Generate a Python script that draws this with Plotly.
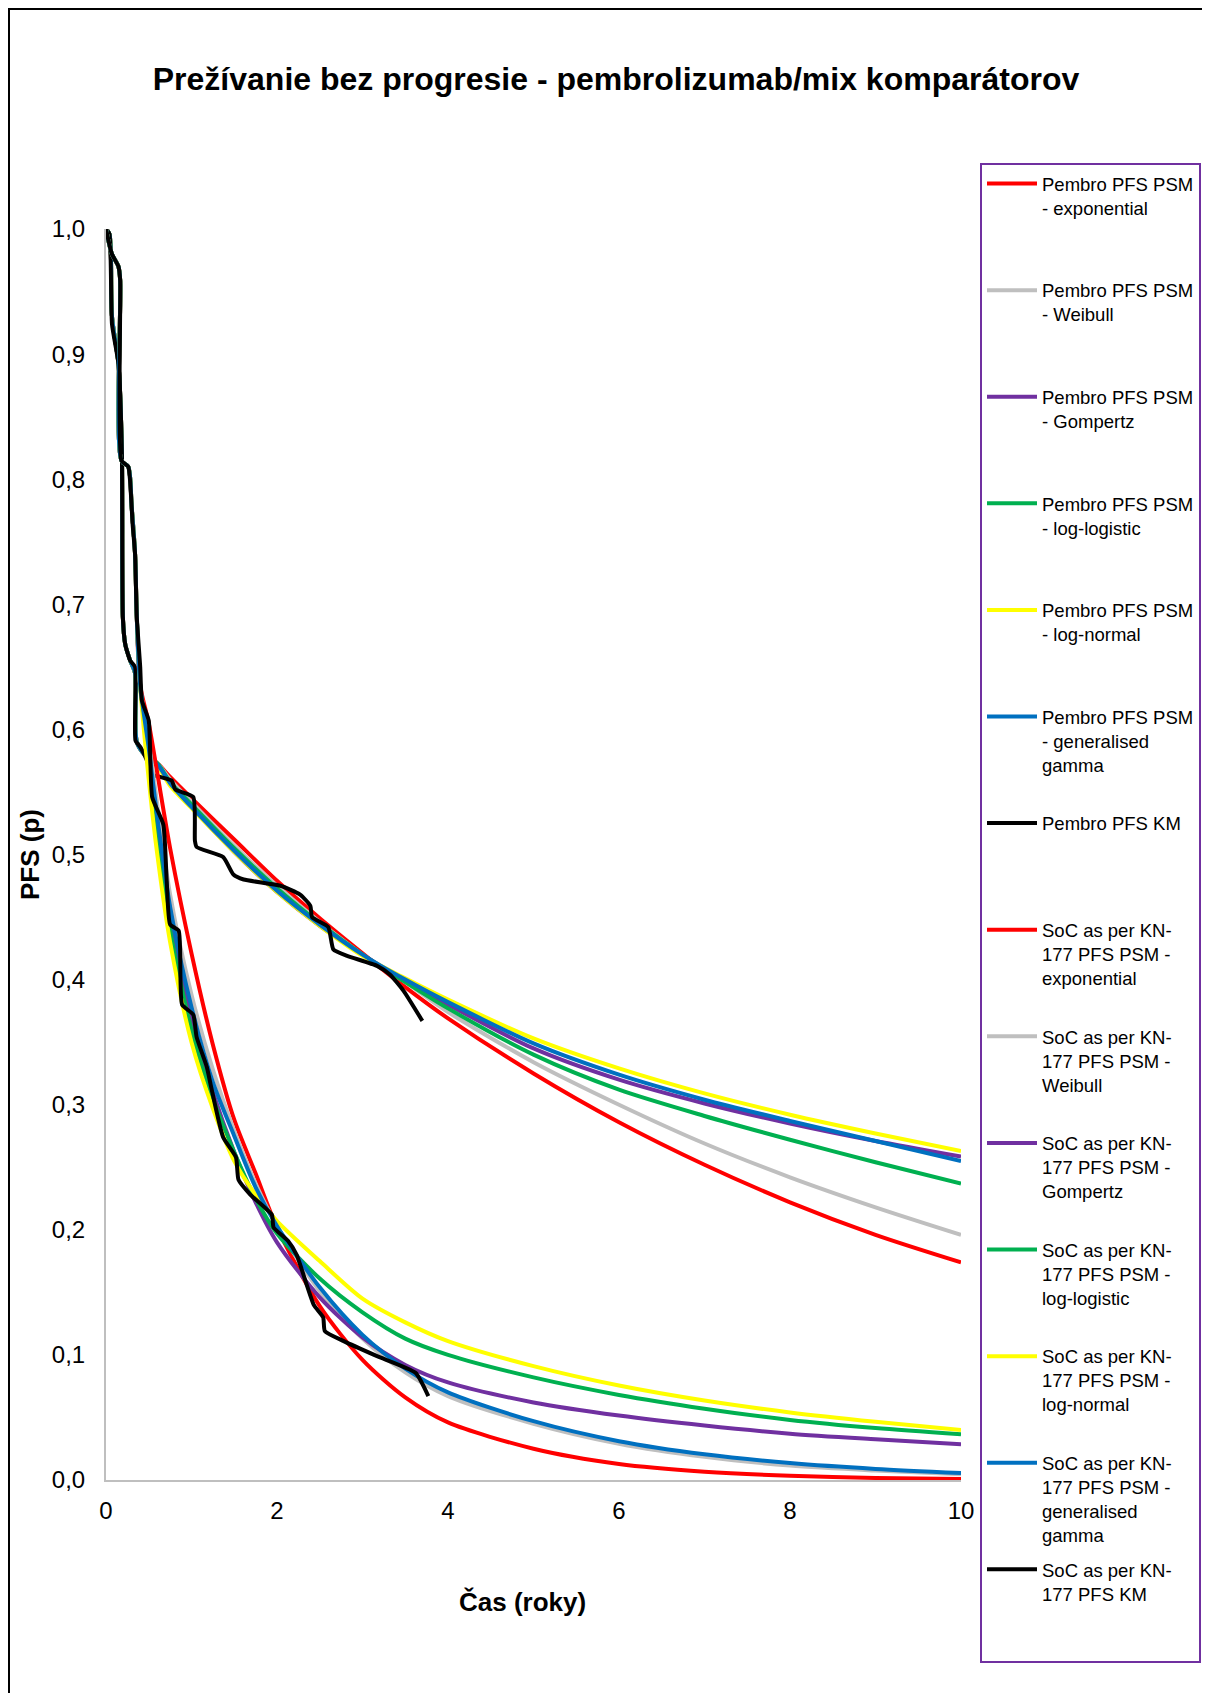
import plotly.graph_objects as go

# ---------------- data ----------------
# Pembro PSM curves: shared early part (follows KM), then model tails
pembro_early_t = [0, 0.04, 0.07, 0.146, 0.186, 0.197, 0.225, 0.283, 0.34, 0.36, 0.45]
pembro_early_s = [1.0, 0.996, 0.93, 0.892, 0.82, 0.69, 0.668, 0.655, 0.645, 0.59, 0.58]
pembro_tail_t = [0.6, 0.75, 1.0, 1.5, 2.0, 2.5, 3.0, 3.5, 4.0, 5.0, 6.0, 7.0, 8.0, 9.0, 10.0]
pembro_exponential = [0.573, 0.562, 0.545, 0.512, 0.479, 0.449, 0.421, 0.394, 0.369, 0.325, 0.286, 0.252, 0.222, 0.196, 0.174]
pembro_weibull     = [0.573, 0.560, 0.542, 0.507, 0.475, 0.446, 0.420, 0.398, 0.374, 0.334, 0.300, 0.269, 0.242, 0.218, 0.196]
pembro_gompertz    = [0.572, 0.557, 0.538, 0.502, 0.470, 0.443, 0.420, 0.399, 0.380, 0.345, 0.320, 0.301, 0.285, 0.271, 0.2585]
pembro_loglogistic = [0.573, 0.558, 0.540, 0.505, 0.473, 0.445, 0.420, 0.398, 0.377, 0.340, 0.312, 0.291, 0.272, 0.254, 0.237]
pembro_lognormal   = [0.571, 0.555, 0.537, 0.502, 0.470, 0.443, 0.419, 0.401, 0.384, 0.353, 0.329, 0.309, 0.292, 0.277, 0.263]
pembro_gengamma    = [0.572, 0.557, 0.538, 0.503, 0.471, 0.444, 0.420, 0.400, 0.382, 0.349, 0.324, 0.304, 0.287, 0.271, 0.255]

pembro_km_t = [0, 0.04, 0.07, 0.146, 0.186, 0.197, 0.225, 0.283, 0.34, 0.345, 0.40, 0.48, 0.54, 0.63, 0.77,
               0.81, 1.02, 1.04, 1.06, 1.37, 1.49, 1.61, 2.04, 2.27, 2.39, 2.41, 2.60, 2.66, 2.82, 3.17,
               3.32, 3.48, 3.70]
pembro_km_s = [1.0, 0.996, 0.924, 0.892, 0.82, 0.69, 0.668, 0.655, 0.65, 0.591, 0.586, 0.575, 0.564, 0.562, 0.559,
               0.552, 0.546, 0.511, 0.506, 0.498, 0.484, 0.48, 0.475, 0.468, 0.459, 0.45, 0.442, 0.424, 0.419, 0.411,
               0.404, 0.391, 0.367]

# SoC PSM curves: shared early part (follows KM), then model tails
soc_early_t = [0, 0.069, 0.146, 0.166, 0.18, 0.26, 0.30, 0.34, 0.36, 0.40]
soc_early_s = [1.0, 0.98, 0.97, 0.959, 0.815, 0.81, 0.778, 0.74, 0.69, 0.635]
soc_tail_t = [0.5, 0.6, 0.75, 1.0, 1.25, 1.5, 1.75, 2.0, 2.5, 3.0, 3.5, 4.0, 5.0, 6.0, 7.0, 8.0, 9.0, 10.0]
soc_exponential = [0.605, 0.565, 0.505, 0.421, 0.348, 0.288, 0.245, 0.202, 0.139, 0.096, 0.066, 0.046, 0.025, 0.0128, 0.0066, 0.0033, 0.0016, 0.0008]
soc_weibull     = [0.590, 0.540, 0.468, 0.388, 0.328, 0.279, 0.237, 0.203, 0.151, 0.113, 0.086, 0.067, 0.045, 0.029, 0.0185, 0.0115, 0.0075, 0.0045]
soc_gompertz    = [0.580, 0.525, 0.455, 0.370, 0.310, 0.262, 0.222, 0.190, 0.146, 0.114, 0.092, 0.078, 0.062, 0.0515, 0.0435, 0.037, 0.0325, 0.0285]
soc_loglogistic = [0.575, 0.515, 0.440, 0.360, 0.305, 0.262, 0.225, 0.197, 0.161, 0.134, 0.113, 0.100, 0.082, 0.068, 0.057, 0.048, 0.0415, 0.0365]
soc_lognormal   = [0.560, 0.500, 0.430, 0.350, 0.297, 0.255, 0.228, 0.207, 0.175, 0.145, 0.126, 0.111, 0.091, 0.0755, 0.0635, 0.054, 0.0465, 0.040]
soc_gengamma    = [0.585, 0.530, 0.458, 0.378, 0.318, 0.275, 0.234, 0.203, 0.154, 0.116, 0.089, 0.070, 0.047, 0.031, 0.0205, 0.0135, 0.0088, 0.0055]

soc_km_t = [0, 0.069, 0.146, 0.166, 0.18, 0.26, 0.28, 0.30, 0.31, 0.34, 0.36, 0.40, 0.42, 0.50, 0.54, 0.67,
            0.71, 0.75, 0.85, 0.89, 1.02, 1.06, 1.18, 1.23, 1.37, 1.52, 1.55, 1.69, 1.94, 1.96, 2.13, 2.23,
            2.43, 2.54, 2.56, 2.78, 3.17, 3.62, 3.77]
soc_km_s = [1.0, 0.98, 0.97, 0.959, 0.815, 0.81, 0.80, 0.778, 0.765, 0.74, 0.69, 0.65, 0.623, 0.607, 0.546, 0.524,
            0.479, 0.444, 0.439, 0.38, 0.372, 0.354, 0.330, 0.314, 0.274, 0.258, 0.240, 0.228, 0.212, 0.202, 0.191, 0.180,
            0.140, 0.130, 0.119, 0.111, 0.099, 0.0857, 0.067]

x_ticks = [0, 2, 4, 6, 8, 10]
y_ticks = [0.0, 0.1, 0.2, 0.3, 0.4, 0.5, 0.6, 0.7, 0.8, 0.9, 1.0]

model_colors = {
    "exponential": "#FF0000",
    "Weibull": "#BFBFBF",
    "Gompertz": "#7030A0",
    "log-logistic": "#00B050",
    "log-normal": "#FFFF00",
    "generalised gamma": "#0070C0",
}

pembro_series = [
    ("Pembro PFS PSM<br>- exponential<br> <br> ", "exponential", pembro_exponential),
    ("Pembro PFS PSM<br>- Weibull<br> <br> ", "Weibull", pembro_weibull),
    ("Pembro PFS PSM<br>- Gompertz<br> <br> ", "Gompertz", pembro_gompertz),
    ("Pembro PFS PSM<br>- log-logistic<br> <br> ", "log-logistic", pembro_loglogistic),
    ("Pembro PFS PSM<br>- log-normal<br> <br> ", "log-normal", pembro_lognormal),
    ("Pembro PFS PSM<br>- generalised<br>gamma<br> ", "generalised gamma", pembro_gengamma),
]
soc_series = [
    ("SoC as per KN-<br>177 PFS PSM -<br>exponential<br> ", "exponential", soc_exponential),
    ("SoC as per KN-<br>177 PFS PSM -<br>Weibull<br> ", "Weibull", soc_weibull),
    ("SoC as per KN-<br>177 PFS PSM -<br>Gompertz<br> ", "Gompertz", soc_gompertz),
    ("SoC as per KN-<br>177 PFS PSM -<br>log-logistic<br> ", "log-logistic", soc_loglogistic),
    ("SoC as per KN-<br>177 PFS PSM -<br>log-normal<br> ", "log-normal", soc_lognormal),
    ("SoC as per KN-<br>177 PFS PSM -<br>generalised<br>gamma", "generalised gamma", soc_gengamma),
]

# ---------------- figure ----------------
# page body has an 8px margin, so the figure is drawn 8px smaller and
# reference pixel positions are shifted by OFF
OFF = 8
W, H = 1210 - OFF, 1693 - OFF
ML, MR, MT, MB = 98, 249, 221, 213
PW, PH = W - ML - MR, H - MT - MB


def fx(ref_px):
    return (ref_px - OFF - ML) / PW


def fy(ref_py):
    return (H - MB - (ref_py - OFF)) / PH


fig = go.Figure()
LW = 4
grp = 0
for name, model, vals in pembro_series:
    grp += 1
    fig.add_trace(go.Scatter(
        x=pembro_early_t + pembro_tail_t, y=pembro_early_s + vals, name=name,
        mode="lines", line=dict(color=model_colors[model], width=LW, shape="spline", smoothing=0.8),
        legendgroup=f"g{grp}"))
grp += 1
fig.add_trace(go.Scatter(
    x=pembro_km_t, y=pembro_km_s, name="Pembro PFS KM<br> <br> <br> ",
    mode="lines", line=dict(color="#000000", width=LW, shape="spline", smoothing=0.5),
    legendgroup=f"g{grp}"))
for name, model, vals in soc_series:
    grp += 1
    fig.add_trace(go.Scatter(
        x=soc_early_t + soc_tail_t, y=soc_early_s + vals, name=name,
        mode="lines", line=dict(color=model_colors[model], width=LW, shape="spline", smoothing=0.8),
        legendgroup=f"g{grp}"))
grp += 1
fig.add_trace(go.Scatter(
    x=soc_km_t, y=soc_km_s, name="SoC as per KN-<br>177 PFS KM<br> <br> ",
    mode="lines", line=dict(color="#000000", width=LW, shape="spline", smoothing=0.5),
    legendgroup=f"g{grp}"))

FONT = "Liberation Sans, Arial, sans-serif"

fig.update_layout(
    width=W, height=H,
    margin=dict(l=ML, r=MR, t=MT, b=MB, autoexpand=False),
    paper_bgcolor="white", plot_bgcolor="white",
    separators=",.",
    font=dict(family=FONT, color="#000000"),
    title=dict(text="<b>Prežívanie bez progresie - pembrolizumab/mix komparátorov</b>",
               font=dict(size=32, family=FONT, color="#000000"),
               x=(616 - OFF) / W, xref="container", xanchor="center",
               y=1 - (79 - OFF) / H, yref="container", yanchor="middle"),
    xaxis=dict(range=[0, 10], tickvals=x_ticks, ticktext=[str(v) for v in x_ticks],
               showgrid=False, zeroline=False, showline=True, linecolor="#BFBFBF", linewidth=2,
               ticks="", tickfont=dict(size=24, family=FONT), ticklabelstandoff=8, fixedrange=True),
    yaxis=dict(range=[0, 1.0], tickvals=y_ticks, tickformat=".1f",
               showgrid=False, zeroline=False, showline=True, linecolor="#BFBFBF", linewidth=2,
               ticks="", tickfont=dict(size=24, family=FONT), ticklabelstandoff=14, fixedrange=True),
    legend=dict(x=fx(980), y=fy(163), xanchor="left", yanchor="top",
                bgcolor="white", bordercolor="#7030A0", borderwidth=2,
                font=dict(size=18.5, family=FONT, color="#000000"),
                itemwidth=50, valign="top", tracegroupgap=7.4, traceorder="grouped",
                maxheight=1600),
    showlegend=True,
    annotations=[
        dict(text="<b>Čas (roky)</b>", x=fx(522), y=fy(1602),
             xref="paper", yref="paper", showarrow=False, xanchor="center", yanchor="middle",
             font=dict(size=26, family=FONT, color="#000000")),
        dict(text="<b>PFS (p)</b>", x=fx(30), y=fy(855), textangle=-90,
             xref="paper", yref="paper", showarrow=False, xanchor="center", yanchor="middle",
             font=dict(size=26, family=FONT, color="#000000")),
    ],
    shapes=[
        dict(type="rect", xref="paper", yref="paper",
             x0=fx(9), x1=fx(1240),
             y0=fy(1740), y1=fy(OFF + 1),
             line=dict(color="#000000", width=2), fillcolor="rgba(0,0,0,0)", layer="above"),
    ],
)

fig.write_html("out.html")
